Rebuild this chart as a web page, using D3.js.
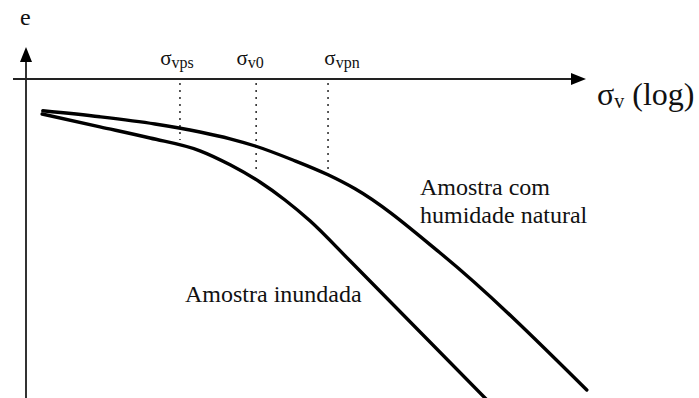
<!DOCTYPE html>
<html>
<head>
<meta charset="utf-8">
<script src="https://cdn.jsdelivr.net/npm/d3@7"></script>
<style>
  html, body { margin: 0; padding: 0; background: #fff; }
  svg { display: block; }
</style>
</head>
<body>
<script>
// Compression curves: void ratio e against vertical stress (log scale)
const sigmaNatural = [1.23, 2.49, 4.91, 8.55, 12.4, 16.9, 26.9, 41.5, 57.9, 165, 1010];
const eNatural     = [1.118, 1.103, 1.085, 1.065, 1.048, 1.030, 0.995, 0.958, 0.923, 0.763, 0.420];

const sigmaFlooded = [1.22, 2.49, 4.62, 8.55, 12.4, 17.9, 24.4, 33.2, 54.4, 295];
const eFlooded     = [1.110, 1.078, 1.050, 1.018, 0.983, 0.940, 0.895, 0.843, 0.743, 0.395];

// Characteristic stresses with the void ratio where each guide line stops
const refNames  = ["vps", "v0", "vpn"];
const refSigma  = [6.68, 17.1, 41.5];
const refE      = [1.045, 0.963, 0.965];

const curveLabels = [["Amostra com", "humidade natural"], ["Amostra inundada"]];

const W = 699, H = 398;
const SERIF = "'Liberation Serif', 'Times New Roman', Times, serif";
const x = d3.scaleLog().domain([1, 1000]).range([26, 586]);
const y = d3.scaleLinear().domain([0.4, 1.2]).range([398, 78]);

const svg = d3.select("body").append("svg").attr("width", W).attr("height", H)
  .attr("font-family", SERIF);

const txt = (sel) => sel.append("text").attr("font-family", SERIF).attr("fill", "#111");

const axisY = y(1.2) + 1;

// Vertical axis (e) with arrow head
svg.append("line").attr("x1", 26).attr("x2", 26).attr("y1", 58).attr("y2", H)
  .attr("stroke", "#333").attr("stroke-width", 2);
svg.append("path").attr("d", `M26,47 L20,62 L32,62 Z`).attr("fill", "#000");

// Horizontal axis (σv, log) with arrow head
svg.append("line").attr("x1", 13).attr("x2", 575).attr("y1", axisY).attr("y2", axisY)
  .attr("stroke", "#222").attr("stroke-width", 2);
svg.append("path").attr("d", `M586,${axisY} L571,${axisY - 6} L571,${axisY + 6} Z`).attr("fill", "#000");

// Axis titles
txt(svg).attr("x", 20).attr("y", 25).attr("font-size", 24).text("e");
const xt = txt(svg).attr("x", 597).attr("y", 105).attr("font-size", 32);
xt.append("tspan").text("σ");
xt.append("tspan").attr("font-size", 20).attr("dy", 3).text("v");
xt.append("tspan").attr("dy", -3).text(" (log)");

// Guide lines at the characteristic stresses
const labelDx = [-3, -6, 14];
refSigma.forEach((s, i) => {
  svg.append("line")
    .attr("x1", x(s)).attr("x2", x(s))
    .attr("y1", axisY + 4).attr("y2", y(refE[i]))
    .attr("stroke", "#333").attr("stroke-width", 1.6)
    .attr("stroke-dasharray", "2,5");
  const t = txt(svg).attr("x", x(s) + labelDx[i]).attr("y", 65)
    .attr("text-anchor", "middle").attr("font-size", 21);
  t.append("tspan").text("σ");
  t.append("tspan").attr("font-size", 16).attr("dy", 3).text(refNames[i]);
});

// Curves
const line = d3.line().x(d => x(d[0])).y(d => y(d[1])).curve(d3.curveMonotoneX);
const natural = sigmaNatural.map((s, i) => [s, eNatural[i]]);
const flooded = sigmaFlooded.map((s, i) => [s, eFlooded[i]]);
[natural, flooded].forEach(pts => {
  svg.append("path").attr("d", line(pts))
    .attr("fill", "none").attr("stroke", "#000").attr("stroke-width", 3.4)
    .attr("stroke-linejoin", "round").attr("stroke-linecap", "round");
});

// Curve labels
const lab1 = txt(svg).attr("font-size", 24);
curveLabels[0].forEach((s, i) => {
  lab1.append("tspan").attr("x", 420).attr("y", 195 + i * 28).text(s);
});
txt(svg).attr("font-size", 24).attr("x", 185).attr("y", 302).text(curveLabels[1][0]);
</script>
</body>
</html>
